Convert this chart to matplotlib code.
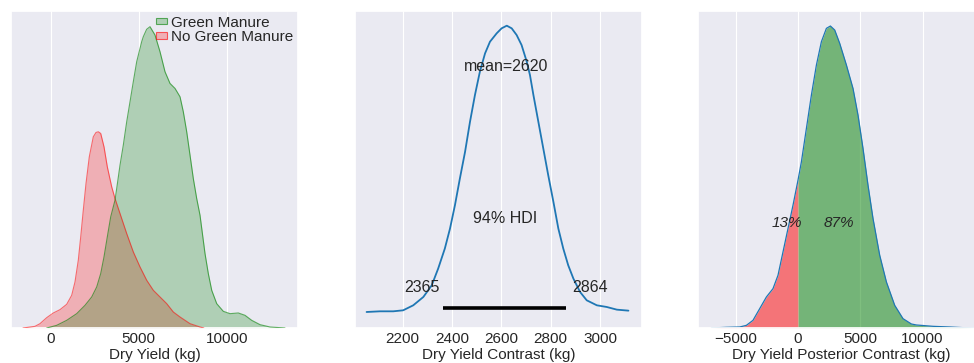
import matplotlib
matplotlib.use("Agg")
import matplotlib.pyplot as plt
from matplotlib.patches import Patch
import seaborn as sns
import numpy as np

sns.set_theme(style="darkgrid")
plt.rcParams['font.family'] = ['Liberation Sans', 'DejaVu Sans']
plt.rcParams['grid.linewidth'] = 0.8
TXT = '#262626'
BG = '#EAEAF2'

# --- panel 1: KDE of dry yield by group ---
green_x = [-227, 341, 909, 1477, 1949, 2330, 2614, 2841, 3028, 3216, 3409,
           3653, 3750, 3938, 4125, 4318, 4506, 4693, 4886, 5170, 5261, 5450,
           5642, 5926, 6210, 6494, 6778, 7063, 7347, 7534, 7727, 7915, 8102,
           8295, 8483, 8767, 8955, 9148, 9432, 9807, 10188, 10659, 11040,
           11420, 11892, 12460, 13028, 13310]
green_y = [0.0, 0.008, 0.023, 0.043, 0.068, 0.093, 0.123, 0.163, 0.213, 0.273,
           0.333, 0.383, 0.418, 0.488, 0.548, 0.618, 0.678, 0.738, 0.798, 0.858,
           0.873, 0.895, 0.903, 0.878, 0.828, 0.768, 0.733, 0.718, 0.693, 0.648,
           0.588, 0.518, 0.448, 0.388, 0.338, 0.223, 0.163, 0.113, 0.073, 0.050,
           0.043, 0.045, 0.038, 0.023, 0.010, 0.003, 0.001, 0.0]
red_x = [-1574, -892, -608, -227, 148, 528, 909, 1193, 1380, 1568, 1705, 1852,
         2006, 2193, 2420, 2574, 2705, 2841, 3028, 3216, 3466, 3653, 3938,
         4318, 4693, 5074, 5455, 5830, 6210, 6591, 6966, 7347, 7915, 8483, 8700]
red_y = [0.0, 0.005, 0.013, 0.031, 0.045, 0.055, 0.071, 0.098, 0.138, 0.203,
         0.273, 0.353, 0.433, 0.513, 0.573, 0.586, 0.588, 0.583, 0.543, 0.483,
         0.423, 0.388, 0.343, 0.283, 0.228, 0.183, 0.143, 0.113, 0.093, 0.073,
         0.048, 0.033, 0.013, 0.003, 0.0]
group_labels = ["Green Manure", "No Green Manure"]

# --- panel 2: posterior of the contrast ---
post_x = [2054, 2108, 2162, 2202, 2243, 2284, 2318, 2344, 2371, 2392, 2412,
          2432, 2453, 2473, 2493, 2513, 2534, 2554, 2581, 2601, 2622, 2642,
          2662, 2682, 2703, 2716, 2730, 2750, 2770, 2790, 2811, 2831, 2851,
          2871, 2892, 2919, 2946, 2987, 3027, 3068, 3115]
post_y = [0.002, 0.004, 0.004, 0.007, 0.022, 0.047, 0.082, 0.132, 0.192,
          0.252, 0.322, 0.402, 0.482, 0.572, 0.652, 0.722, 0.777, 0.812,
          0.837, 0.852, 0.860, 0.852, 0.832, 0.802, 0.752, 0.712, 0.652,
          0.572, 0.492, 0.412, 0.332, 0.252, 0.192, 0.142, 0.102, 0.062,
          0.037, 0.022, 0.017, 0.009, 0.006]
post_mean = 2620
hdi_lo, hdi_hi = 2365, 2864

# --- panel 3: posterior predictive contrast ---
pc_x = [-6950, -5747, -4679, -4141, -3612, -3074, -2536, -2006, -1605, -1204,
        -803, -401, 0, 273, 674, 1075, 1477, 1878, 2279, 2600, 2946, 3347,
        3885, 4414, 4816, 5217, 5618, 6020, 6557, 7095, 7761, 8427, 9101,
        9509, 10848, 12188, 13259, 14116]
pc_y = [0.0, 0.002, 0.003, 0.008, 0.023, 0.058, 0.093, 0.118, 0.158, 0.228,
        0.298, 0.368, 0.443, 0.498, 0.598, 0.698, 0.788, 0.858, 0.898, 0.905,
        0.893, 0.853, 0.788, 0.718, 0.638, 0.538, 0.428, 0.328, 0.218, 0.138,
        0.068, 0.028, 0.012, 0.009, 0.005, 0.003, 0.001, 0.0]
pct_below, pct_above = "13%", "87%"

fig = plt.figure(figsize=(9.74, 3.63), dpi=100)
W, H = 974, 363
bot, hgt = (H - 328) / H, 317 / H
ax1 = fig.add_axes([11 / W, bot, 287 / W, hgt])
ax2 = fig.add_axes([355 / W, bot, 287 / W, hgt])
ax3 = fig.add_axes([698 / W, bot, 287 / W, hgt])

for ax in (ax1, ax2, ax3):
    ax.set_yticks([])
    ax.grid(axis='y', visible=False)
    ax.tick_params(axis='x', labelsize=11, colors=TXT, pad=3, length=0)

# panel 1: opaque backing hides the grid under the curves
ax1.fill_between(red_x, red_y, color=BG, lw=0, zorder=1)
ax1.fill_between(green_x, green_y, color=BG, lw=0, zorder=1)
ax1.fill_between(red_x, red_y, color='red', alpha=0.25, lw=0, zorder=2)
ax1.plot(red_x, red_y, color='red', lw=0.8, alpha=0.55, zorder=3)
ax1.fill_between(green_x, green_y, color='green', alpha=0.25, lw=0, zorder=2)
ax1.plot(green_x, green_y, color='green', lw=0.8, alpha=0.6, zorder=3)
handles = [Patch(facecolor=(0, 0.5, 0, 0.25), edgecolor=(0, 0.5, 0, 0.6), lw=0.8),
           Patch(facecolor=(1, 0, 0, 0.25), edgecolor=(1, 0, 0, 0.6), lw=0.8)]
ax1.legend(handles, group_labels, loc='upper right', frameon=False,
           fontsize=11, handlelength=0.75, handleheight=0.3,
           handletextpad=0.25, labelspacing=0.05, borderaxespad=0.2,
           borderpad=0.1, labelcolor=TXT)
ax1.set_xlim(-2256, 14050)
ax1.set_ylim(0, 0.95)
ax1.set_xticks([0, 5000, 10000])
ax1.set_xlabel("Dry Yield (kg)", fontsize=11, color=TXT, labelpad=1)

# panel 2
ax2.plot(post_x, post_y, color='#1f77b4', lw=1.3)
ax2.plot([hdi_lo, hdi_hi], [0.015, 0.015], color='black', lw=2.6,
         solid_capstyle='butt')
ax2.annotate(str(hdi_lo), (hdi_lo, 0.075), xytext=(-4, 0),
             textcoords='offset pixels', ha='right', va='center',
             fontsize=11.5, color=TXT)
ax2.annotate(str(hdi_hi), (hdi_hi, 0.075), xytext=(6, 0),
             textcoords='offset pixels', ha='left', va='center',
             fontsize=11.5, color=TXT)
ax2.text((hdi_lo + hdi_hi) / 2, 0.282, "94% HDI", ha='center', va='center',
         fontsize=11.5, color=TXT)
ax2.text(post_mean, 0.737, f"mean={post_mean}", ha='center', va='center',
         fontsize=11.5, color=TXT)
ax2.set_xlim(2007, 3170)
ax2.set_ylim(-0.046, 0.904)
ax2.set_xticks([2200, 2400, 2600, 2800, 3000])
ax2.set_xlabel("Dry Yield Contrast (kg)", fontsize=11, color=TXT, labelpad=1)

# panel 3
px = np.array(pc_x)
py = np.array(pc_y)
ax3.fill_between(px, py, where=px <= 0, color='red', alpha=0.5, lw=0)
ax3.fill_between(px, py, where=px >= 0, color='green', alpha=0.5, lw=0)
ax3.plot(px, py, color='#1f77b4', lw=0.9)
ax3.text(-884, 0.315, pct_below, ha='center', va='center', fontsize=11,
         style='italic', color=TXT)
ax3.text(3268, 0.315, pct_above, ha='center', va='center', fontsize=11,
         style='italic', color=TXT)
ax3.set_xlim(-8026, 15008)
ax3.set_ylim(0, 0.95)
ax3.set_xticks([-5000, 0, 5000, 10000])
ax3.set_xlabel("Dry Yield Posterior Contrast (kg)", fontsize=11, color=TXT,
               labelpad=1)

fig.savefig("out.png", dpi=100)
